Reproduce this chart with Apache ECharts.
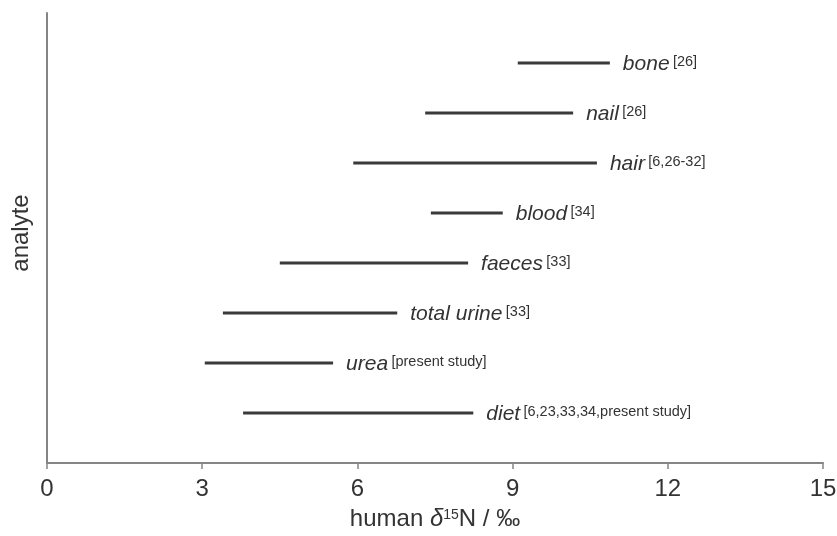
<!DOCTYPE html>
<html>
<head>
<meta charset="utf-8">
<script src="https://cdn.jsdelivr.net/npm/echarts@6/dist/echarts.min.js"></script>
<style>
  html, body { margin: 0; padding: 0; background: #fff; }
  #chart { width: 837px; height: 536px; }
</style>
</head>
<body>
<div id="chart"></div>
<script>
// Analytes listed from bottom to top of the chart
const analytes = ['diet', 'urea', 'total urine', 'faeces', 'blood', 'hair', 'nail', 'bone'];
const references = ['[6,23,33,34,present study]', '[present study]', '[33]', '[33]', '[34]', '[6,26-32]', '[26]', '[26]'];
// Range of human δ15N values (‰) for each analyte
const rangeMin = [3.79, 3.05, 3.40, 4.50, 7.42, 5.92, 7.31, 9.10];
const rangeMax = [8.24, 5.53, 6.77, 8.14, 8.81, 10.63, 10.17, 10.88];
const xTicks = [0, 3, 6, 9, 12, 15];

const data = analytes.map((a, i) => [rangeMin[i], rangeMax[i], i + 1, a, references[i]]);
const FONT = 'Liberation Sans, Arial, sans-serif';

const chart = echarts.init(document.getElementById('chart'));
chart.setOption({
  animation: false,
  backgroundColor: '#ffffff',
  grid: { left: 47, right: 14, top: 13, bottom: 73, containLabel: false, outerBoundsMode: 'none' },
  xAxis: {
    type: 'value',
    min: xTicks[0],
    max: xTicks[xTicks.length - 1],
    interval: xTicks[1] - xTicks[0],
    splitLine: { show: false },
    axisLine: { show: true, lineStyle: { color: '#858585', width: 2 } },
    axisTick: { show: true, inside: false, length: 6, lineStyle: { color: '#858585', width: 1.5 } },
    axisLabel: { color: '#333', fontSize: 24, fontFamily: FONT, margin: 14 },
    name: 'human {i|δ}{sup|15}N / ‰',
    nameLocation: 'middle',
    nameGap: 44,
    nameTextStyle: {
      color: '#333', fontSize: 24, fontFamily: FONT,
      rich: {
        i: { fontStyle: 'italic', fontSize: 24, color: '#333', fontFamily: FONT },
        sup: { fontSize: 14, color: '#333', padding: [0, 0, 8, 0], fontFamily: FONT }
      }
    }
  },
  yAxis: {
    type: 'value',
    min: 0,
    max: analytes.length + 1,
    splitLine: { show: false },
    axisLine: { show: true, lineStyle: { color: '#858585', width: 2 } },
    axisTick: { show: false },
    axisLabel: { show: false },
    name: 'analyte',
    nameLocation: 'middle',
    nameRotate: 90,
    nameGap: 14,
    nameTextStyle: { color: '#333', fontSize: 24, fontFamily: FONT, padding: [0, 0, 0, 10] }
  },
  series: [{
    type: 'custom',
    data: data,
    encode: { x: [0, 1], y: 2 },
    renderItem: function (params, api) {
      const p0 = api.coord([api.value(0), api.value(2)]);
      const p1 = api.coord([api.value(1), api.value(2)]);
      const idx = params.dataIndex;
      return {
        type: 'group',
        children: [
          {
            type: 'line',
            shape: { x1: p0[0], y1: p0[1], x2: p1[0], y2: p1[1] },
            style: { stroke: '#3a3a3a', lineWidth: 3 }
          },
          {
            type: 'text',
            x: p1[0] + 13,
            y: p1[1] + 1,
            style: {
              text: '{n|' + analytes[idx] + '} {r|' + references[idx] + '}',
              verticalAlign: 'middle',
              align: 'left',
              rich: {
                n: { fontSize: 21, fontStyle: 'italic', fill: '#333', fontFamily: FONT },
                r: { fontSize: 14.5, fill: '#333', padding: [0, 0, 5, 0], fontFamily: FONT }
              }
            }
          }
        ]
      };
    }
  }]
});
</script>
</body>
</html>
